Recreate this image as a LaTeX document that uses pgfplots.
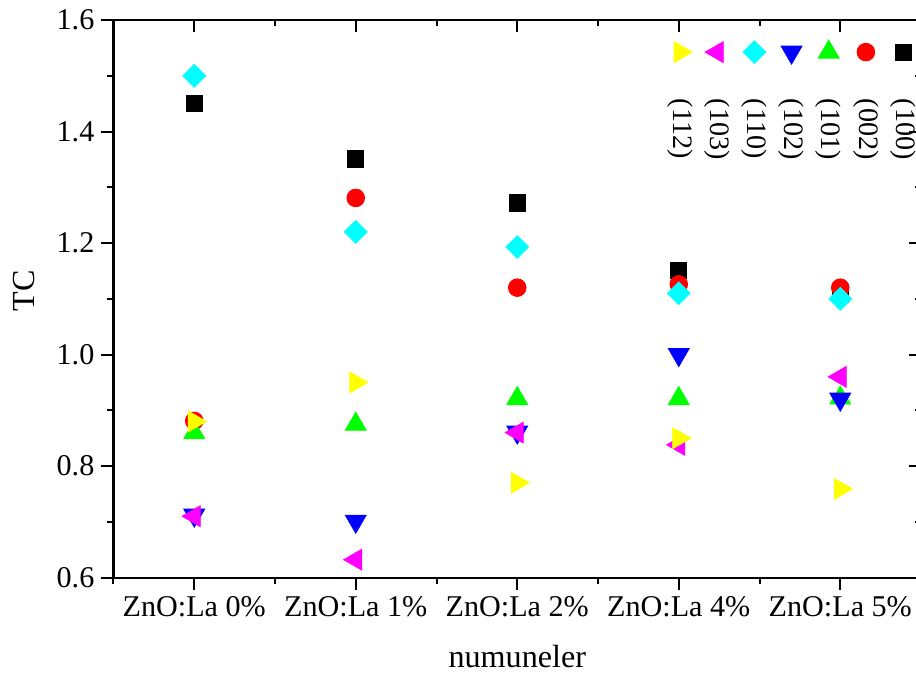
\documentclass[border=0pt]{standalone}
\usepackage{pgfplots}
\pgfplotsset{compat=1.18}
\usepackage{pgfplotstable}
\usepackage{fontspec}
\setmainfont{Liberation Serif}
\usepackage{graphicx}

\definecolor{cyel}{RGB}{255,255,0}
\definecolor{cmag}{RGB}{255,0,255}
\definecolor{ccya}{RGB}{0,255,255}
\definecolor{cblu}{RGB}{0,0,255}
\definecolor{cgre}{RGB}{0,255,0}
\definecolor{cred}{RGB}{255,0,0}

\pgfplotstableread{
x c100 c002 c101 c102 c110 c103 c112
0 1.450 0.881 0.860 0.712 1.500 0.710 0.880
1 1.351 1.281 0.875 0.701 1.220 0.632 0.950
2 1.272 1.120 0.921 0.861 1.193 0.860 0.770
3 1.151 1.126 0.921 1.000 1.110 0.838 0.850
4 1.108 1.120 0.922 0.920 1.100 0.960 0.759
}\datatable

\pgfplotsset{
  LI/.style={legend image code/.code={\draw[overlay,##1] plot coordinates {(9.25pt,24pt)};}},
  common/.style={
    scale only axis, width=402pt, height=277.5pt,
    xmin=-0.5, xmax=4.5, ymin=0.6, ymax=1.6,
    xtick={0,1,2,3,4}, minor xtick={-0.5,0.5,1.5,2.5,3.5,4.5},
    ytick={0.6,0.8,1.0,1.2,1.4,1.6}, minor ytick={0.7,0.9,1.1,1.3,1.5},
    axis line style={line width=1pt},
    major tick style={line width=1pt, black},
    minor tick style={line width=1pt, black},
    major tick length=6pt, minor tick length=3pt,
  },
}

\begin{document}
\begin{tikzpicture}
\begin{axis}[common,
  tick align=outside, tick pos=left,
  xticklabels={ZnO:La 0\%, ZnO:La 1\%, ZnO:La 2\%, ZnO:La 4\%, ZnO:La 5\%},
  yticklabel style={/pgf/number format/.cd, fixed, fixed zerofill, precision=1},
  /pgf/number format/assume math mode=true,
  tick label style={font=\fontsize{15}{18}\selectfont},
  xlabel={numuneler}, ylabel={TC},
  label style={font=\fontsize{16}{19}\selectfont},
  xlabel style={yshift=-7pt},
  ylabel style={yshift=4pt, xshift=4pt},
  reverse legend,
  legend columns=7,
  legend style={at={(rel axis cs:1,1)}, anchor=north east, xshift=0.5pt, yshift=-39pt,
    draw=none, fill=none, inner sep=0pt, column sep=0pt,
    font=\fontsize{14}{16}\selectfont,
    nodes={inner sep=0pt, minimum width=18.5pt}},
]
\addplot[only marks, LI, mark=square*, mark size=4pt, color=black] table[x=x,y=c100]{\datatable};
\addlegendentry{\rotatebox{-90}{(100)}}
\addplot[only marks, LI, mark=*, mark size=4.4pt, color=cred] table[x=x,y=c002]{\datatable};
\addlegendentry{\rotatebox{-90}{(002)}}
\addplot[only marks, LI, mark=triangle*, mark size=6pt, color=cgre] table[x=x,y=c101]{\datatable};
\addlegendentry{\rotatebox{-90}{(101)}}
\addplot[only marks, LI, mark=triangle*, mark size=6pt, mark options={rotate=180}, color=cblu] table[x=x,y=c102]{\datatable};
\addlegendentry{\rotatebox{-90}{(102)}}
\addplot[only marks, LI, mark=square*, mark size=4pt, mark options={rotate=45}, color=ccya] table[x=x,y=c110]{\datatable};
\addlegendentry{\rotatebox{-90}{(110)}}
\addplot[only marks, LI, mark=triangle*, mark size=6pt, mark options={rotate=90}, color=cmag] table[x=x,y=c103]{\datatable};
\addlegendentry{\rotatebox{-90}{(103)}}
\addplot[only marks, LI, mark=triangle*, mark size=6pt, mark options={rotate=-90}, color=cyel] table[x=x,y=c112]{\datatable};
\addlegendentry{\rotatebox{-90}{(112)}}
\end{axis}
\begin{axis}[common,
  tick align=inside, tick pos=right,
  xticklabels={}, yticklabels={},
]
\end{axis}
\pgfresetboundingbox
\path[use as bounding box] ([shift={(-56.5pt,-50pt)}]current axis.south west) rectangle ([shift={(-2.5pt,10pt)}]current axis.north east);
\end{tikzpicture}
\end{document}
